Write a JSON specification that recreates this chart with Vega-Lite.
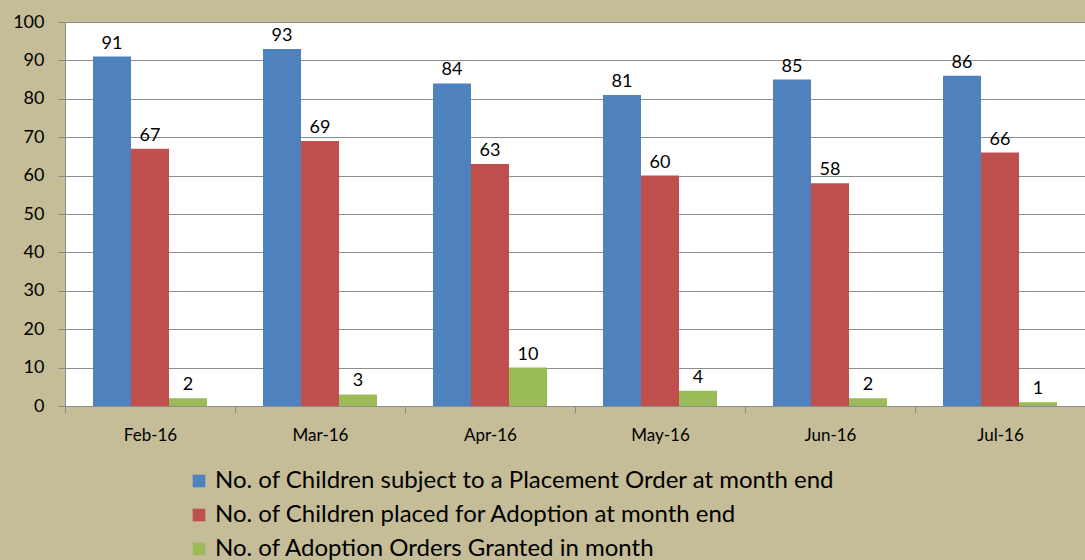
{
  "$schema": "https://vega.github.io/schema/vega-lite/v6.json",
  "width": 1020,
  "height": 384,
  "autosize": "none",
  "padding": {"left": 65, "top": 22, "right": 0, "bottom": 154},
  "background": "#C4BD97",
  "config": {
    "view": {"stroke": null, "fill": "white"},
    "font": "Lato"
  },
  "data": {
    "values": [
      {"month": "Feb-16", "series": "No. of Children subject to a Placement Order at month end", "value": 91},
      {"month": "Feb-16", "series": "No. of Children placed for Adoption at month end", "value": 67},
      {"month": "Feb-16", "series": "No. of Adoption Orders Granted in month", "value": 2},
      {"month": "Mar-16", "series": "No. of Children subject to a Placement Order at month end", "value": 93},
      {"month": "Mar-16", "series": "No. of Children placed for Adoption at month end", "value": 69},
      {"month": "Mar-16", "series": "No. of Adoption Orders Granted in month", "value": 3},
      {"month": "Apr-16", "series": "No. of Children subject to a Placement Order at month end", "value": 84},
      {"month": "Apr-16", "series": "No. of Children placed for Adoption at month end", "value": 63},
      {"month": "Apr-16", "series": "No. of Adoption Orders Granted in month", "value": 10},
      {"month": "May-16", "series": "No. of Children subject to a Placement Order at month end", "value": 81},
      {"month": "May-16", "series": "No. of Children placed for Adoption at month end", "value": 60},
      {"month": "May-16", "series": "No. of Adoption Orders Granted in month", "value": 4},
      {"month": "Jun-16", "series": "No. of Children subject to a Placement Order at month end", "value": 85},
      {"month": "Jun-16", "series": "No. of Children placed for Adoption at month end", "value": 58},
      {"month": "Jun-16", "series": "No. of Adoption Orders Granted in month", "value": 2},
      {"month": "Jul-16", "series": "No. of Children subject to a Placement Order at month end", "value": 86},
      {"month": "Jul-16", "series": "No. of Children placed for Adoption at month end", "value": 66},
      {"month": "Jul-16", "series": "No. of Adoption Orders Granted in month", "value": 1}
    ]
  },
  "encoding": {
    "x": {
      "field": "month", "type": "nominal", "sort": null,
      "scale": {"paddingInner": 0, "paddingOuter": 0},
      "axis": {
        "title": null, "labelAngle": 0, "labelFontSize": 17, "labelColor": "black",
        "tickBand": "extent", "tickSize": 7, "tickColor": "#8C8C8C", "domainColor": "#8C8C8C",
        "labelPadding": 14, "grid": false
      }
    },
    "xOffset": {
      "field": "series", "type": "nominal", "sort": null,
      "scale": {"paddingInner": 0, "paddingOuter": 0.737}
    },
    "y": {
      "field": "value", "type": "quantitative",
      "scale": {"domain": [0, 100], "nice": false},
      "axis": {
        "title": null, "values": [0,10,20,30,40,50,60,70,80,90,100],
        "labelFontSize": 18, "labelColor": "black", "tickSize": 7,
        "tickColor": "#8C8C8C", "domainColor": "#8C8C8C", "gridColor": "#8C8C8C",
        "labelPadding": 14
      }
    }
  },
  "layer": [
    {
      "mark": {"type": "bar"},
      "encoding": {
        "color": {
          "field": "series", "type": "nominal", "sort": null,
          "scale": {
            "domain": [
              "No. of Children subject to a Placement Order at month end",
              "No. of Children placed for Adoption at month end",
              "No. of Adoption Orders Granted in month"
            ],
            "range": ["#4F81BD", "#C0504D", "#9BBB59"]
          },
          "legend": {
            "title": null, "orient": "none", "legendX": 122, "legendY": 447,
            "symbolType": "square", "symbolSize": 160, "symbolStrokeWidth": 0,
            "labelFontSize": 24, "labelColor": "black", "rowPadding": 10, "labelLimit": 900
          }
        }
      }
    },
    {
      "mark": {"type": "text", "baseline": "bottom", "dy": -4, "fontSize": 18, "color": "black"},
      "encoding": {
        "text": {"field": "value", "type": "quantitative"}
      }
    }
  ]
}
